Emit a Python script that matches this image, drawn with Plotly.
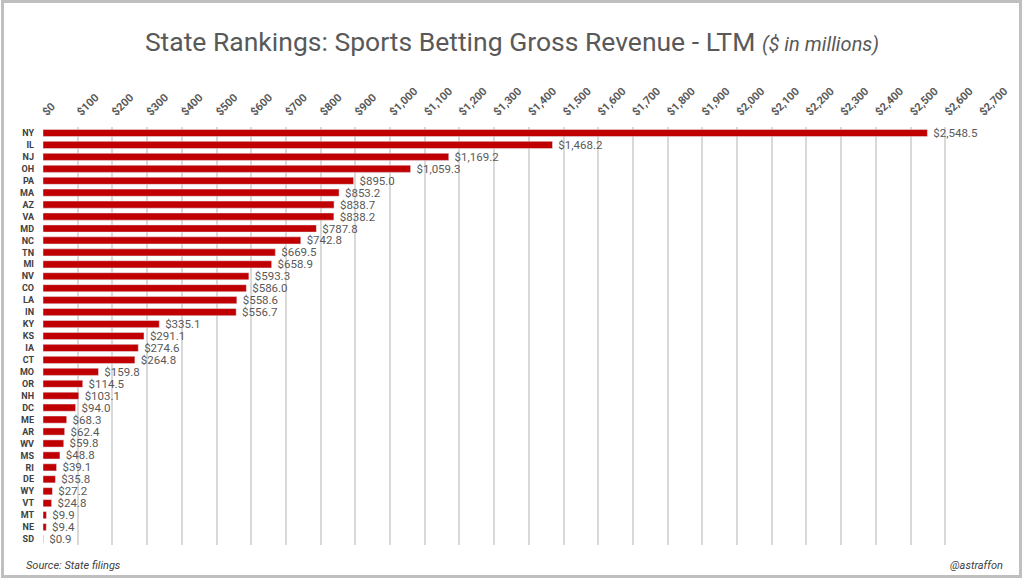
import plotly.graph_objects as go

states = ["NY", "IL", "NJ", "OH", "PA", "MA", "AZ", "VA", "MD", "NC", "TN", "MI",
          "NV", "CO", "LA", "IN", "KY", "KS", "IA", "CT", "MO", "OR", "NH", "DC",
          "ME", "AR", "WV", "MS", "RI", "DE", "WY", "VT", "MT", "NE", "SD"]
revenue = [2548.5, 1468.2, 1169.2, 1059.3, 895.0, 853.2, 838.7, 838.2, 787.8, 742.8,
           669.5, 658.9, 593.3, 586.0, 558.6, 556.7, 335.1, 291.1, 274.6, 264.8,
           159.8, 114.5, 103.1, 94.0, 68.3, 62.4, 59.8, 48.8, 39.1, 35.8, 27.2,
           24.8, 9.9, 9.4, 0.9]
tick_vals = list(range(0, 2800, 100))
tick_text = [f"${v:,}" for v in tick_vals]

fig = go.Figure(
    go.Bar(
        x=revenue,
        y=states,
        orientation="h",
        marker_color="#c00000",
        width=0.6,
        # leading non-breaking space gives the gap after the bar end
        text=[f"\u00a0${v:,.1f}" for v in revenue],
        textposition="outside",
        constraintext="none",
        textfont=dict(family="Roboto", size=11.5, color="#595959"),
        cliponaxis=False,
        hoverinfo="skip",
    )
)

fig.update_layout(
    width=1024,
    height=578,
    paper_bgcolor="white",
    plot_bgcolor="white",
    margin=dict(l=43, r=44, t=127, b=33, autoexpand=False),
    showlegend=False,
    title=dict(
        text="State Rankings: Sports Betting Gross Revenue - LTM <i><span style='font-size:20px'>($ in millions)</span></i>",
        x=0.5,
        xanchor="center",
        y=0.927,
        yanchor="middle",
        font=dict(family="Roboto", size=26.5, color="#595959"),
    ),
    font=dict(family="Roboto", color="#404040"),
)

fig.update_xaxes(
    side="top",
    range=[0, 2700],
    tickvals=tick_vals,
    ticktext=tick_text,
    tickangle=-45,
    tickfont=dict(family="Roboto", size=11, color="#595959", weight="bold"),
    showgrid=True,
    gridcolor="#d9d9d9",
    gridwidth=1.5,
    zeroline=False,
    showline=False,
    automargin=False,
    ticklabelstandoff=6,
    fixedrange=True,
)
fig.update_yaxes(
    autorange="reversed",
    tickfont=dict(family="Roboto", size=9, color="#404040", weight="bold"),
    showgrid=False,
    ticks="",
    ticklabelstandoff=8,
    automargin=False,
    fixedrange=True,
)

# outer frame
fig.add_shape(
    type="rect", xref="paper", yref="paper",
    x0=-0.0432, x1=1.0432, y0=-0.0755, y1=1.3,
    line=dict(color="#bfbfbf", width=3),
    fillcolor="rgba(0,0,0,0)",
)

fig.add_annotation(
    text="<i>Source: State filings</i>", xref="paper", yref="paper",
    x=-0.02, y=-0.05, xanchor="left", yanchor="middle", showarrow=False,
    font=dict(family="Roboto", size=11, color="#404040"),
)
fig.add_annotation(
    text="<i>@astraffon</i>", xref="paper", yref="paper",
    x=1.027, y=-0.05, xanchor="right", yanchor="middle", showarrow=False,
    font=dict(family="Roboto", size=11, color="#404040"),
)

fig.write_html("out.html", config={"displayModeBar": False},
               post_script="document.body.style.margin='0';")
